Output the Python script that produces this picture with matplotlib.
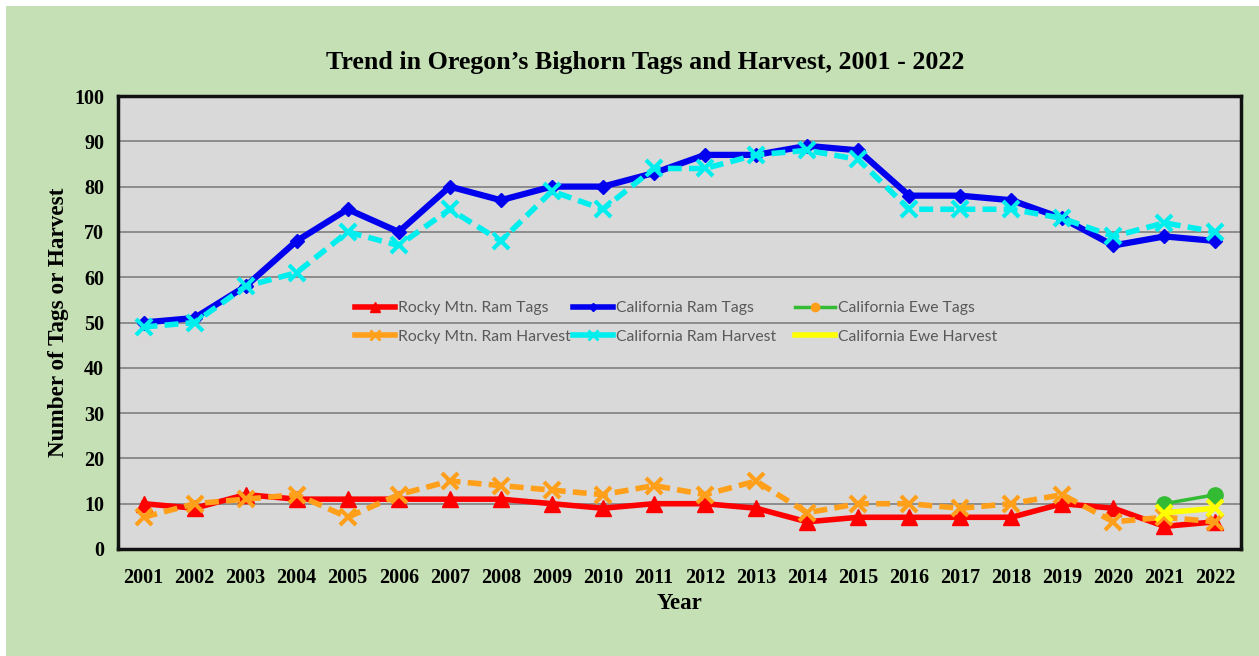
import matplotlib
matplotlib.use("Agg")
import matplotlib.pyplot as plt
from matplotlib.lines import Line2D
from matplotlib.legend import Legend
from matplotlib.patches import Rectangle

years = [str(y) for y in range(2001, 2023)]

rocky_ram_tags = [10, 9, 12, 11, 11, 11, 11, 11, 10, 9, 10, 10, 9, 6, 7, 7, 7, 7, 10, 9, 5, 6]
rocky_ram_harvest = [7, 10, 11, 12, 7, 12, 15, 14, 13, 12, 14, 12, 15, 8, 10, 10, 9, 10, 12, 6, 7, 6]
cal_ram_tags = [50, 51, 58, 68, 75, 70, 80, 77, 80, 80, 83, 87, 87, 89, 88, 78, 78, 77, 73, 67, 69, 68]
cal_ram_harvest = [49, 50, 58, 61, 70, 67, 75, 68, 79, 75, 84, 84, 87, 88, 86, 75, 75, 75, 73, 69, 72, 70]
ewe_years = ["2021", "2022"]
cal_ewe_tags = [10, 12]
cal_ewe_harvest = [8, 9]

W, H = 1259, 656
fig = plt.figure(figsize=(W / 100, H / 100), dpi=100)
fig.patch.set_facecolor("white")
# green chart area with a thin white margin on top and left
fig.patches.append(Rectangle((6 / W, 0), 1 - 6 / W, 1 - 6 / H, transform=fig.transFigure,
                             facecolor="#c5e0b4", edgecolor="none", zorder=-10))

ax = fig.add_axes([118 / W, 1 - 549 / H, (1241 - 118) / W, (549 - 96) / H])
ax.set_zorder(5)
ax.set_facecolor("#d9d9d9")

xi = list(range(len(years)))
ewe_x = [years.index(y) for y in ewe_years]
dash = (0, (2.5, 1.3))

ax.plot(xi, rocky_ram_tags, color="#ff0000", lw=4, marker="^", ms=11, zorder=3)
ax.plot(xi, cal_ram_tags, color="#0000ee", lw=4.5, marker="D", ms=7, zorder=3)
ax.plot(ewe_x, cal_ewe_tags, color="#33bb33", lw=2.5, marker="o", ms=11, zorder=3)
ax.plot(xi, rocky_ram_harvest, color="#ff9f1a", lw=4, ls=dash, marker="x", ms=12, mew=3, zorder=4)
ax.plot(xi, cal_ram_harvest, color="#00eeee", lw=4, ls=dash, marker="x", ms=12, mew=3, zorder=4)
ax.plot(ewe_x, cal_ewe_harvest, color="#ffff00", lw=4, marker="x", ms=12, mew=3, zorder=5)

ax.set_xlim(-0.5, len(years) - 0.5)
ax.set_ylim(0, 100)
ax.set_yticks(range(0, 101, 10))
ax.set_xticks(xi)
ax.set_xticklabels(years)
ax.yaxis.grid(True, color="#808080", lw=1.2)
ax.set_axisbelow(True)
ax.tick_params(axis="x", length=0, pad=14)
ax.tick_params(axis="y", length=0, pad=10)
for lab in ax.get_xticklabels() + ax.get_yticklabels():
    lab.set_fontfamily("Liberation Serif")
    lab.set_fontweight("bold")
    lab.set_fontsize(14.5)
for s in ax.spines.values():
    s.set_color("#111111")
    s.set_linewidth(2.5)

ax.set_xlabel("Year", family="Liberation Serif", fontweight="bold", fontsize=16.5, labelpad=3)
ax.set_ylabel("Number of Tags or Harvest", family="Liberation Serif", fontweight="bold",
              fontsize=16.7, labelpad=4)
fig.text(645 / W, 1 - 62 / H, "Trend in Oregon\u2019s Bighorn Tags and Harvest, 2001 - 2022",
         family="Liberation Serif", fontweight="bold", fontsize=18.7, ha="center", va="center")

# legend: three two-row columns placed at their own x positions
legend_cols = [
    ([Line2D([], [], color="#ff0000", lw=4, marker="^", ms=7),
      Line2D([], [], color="#ff9f1a", lw=4, marker="x", ms=7, mew=2)],
     ["Rocky Mtn. Ram Tags", "Rocky Mtn. Ram Harvest"], 355),
    ([Line2D([], [], color="#0000ee", lw=4, marker="D", ms=4),
      Line2D([], [], color="#00eeee", lw=4, marker="x", ms=7, mew=2)],
     ["California Ram Tags", "California Ram Harvest"], 573),
    ([Line2D([], [], color="#33bb33", lw=2.5, marker="o", ms=6, mfc="#ff9f1a", mec="#ff9f1a"),
      Line2D([], [], color="#ffff00", lw=4)],
     ["California Ewe Tags", "California Ewe Harvest"], 795),
]
for handles, labels, xpix in legend_cols:
    leg = Legend(ax, handles, labels, loc="center left",
                 bbox_to_anchor=((xpix - 118) / 1123, (549 - 322.5) / 453),
                 frameon=False, prop={"family": "Lato", "size": 11.3}, labelcolor="#595959",
                 handlelength=2.55, handletextpad=0.2, labelspacing=0.9,
                 borderpad=0, borderaxespad=0)
    ax.add_artist(leg)

fig.savefig("out.png", dpi=100, facecolor=fig.get_facecolor())
